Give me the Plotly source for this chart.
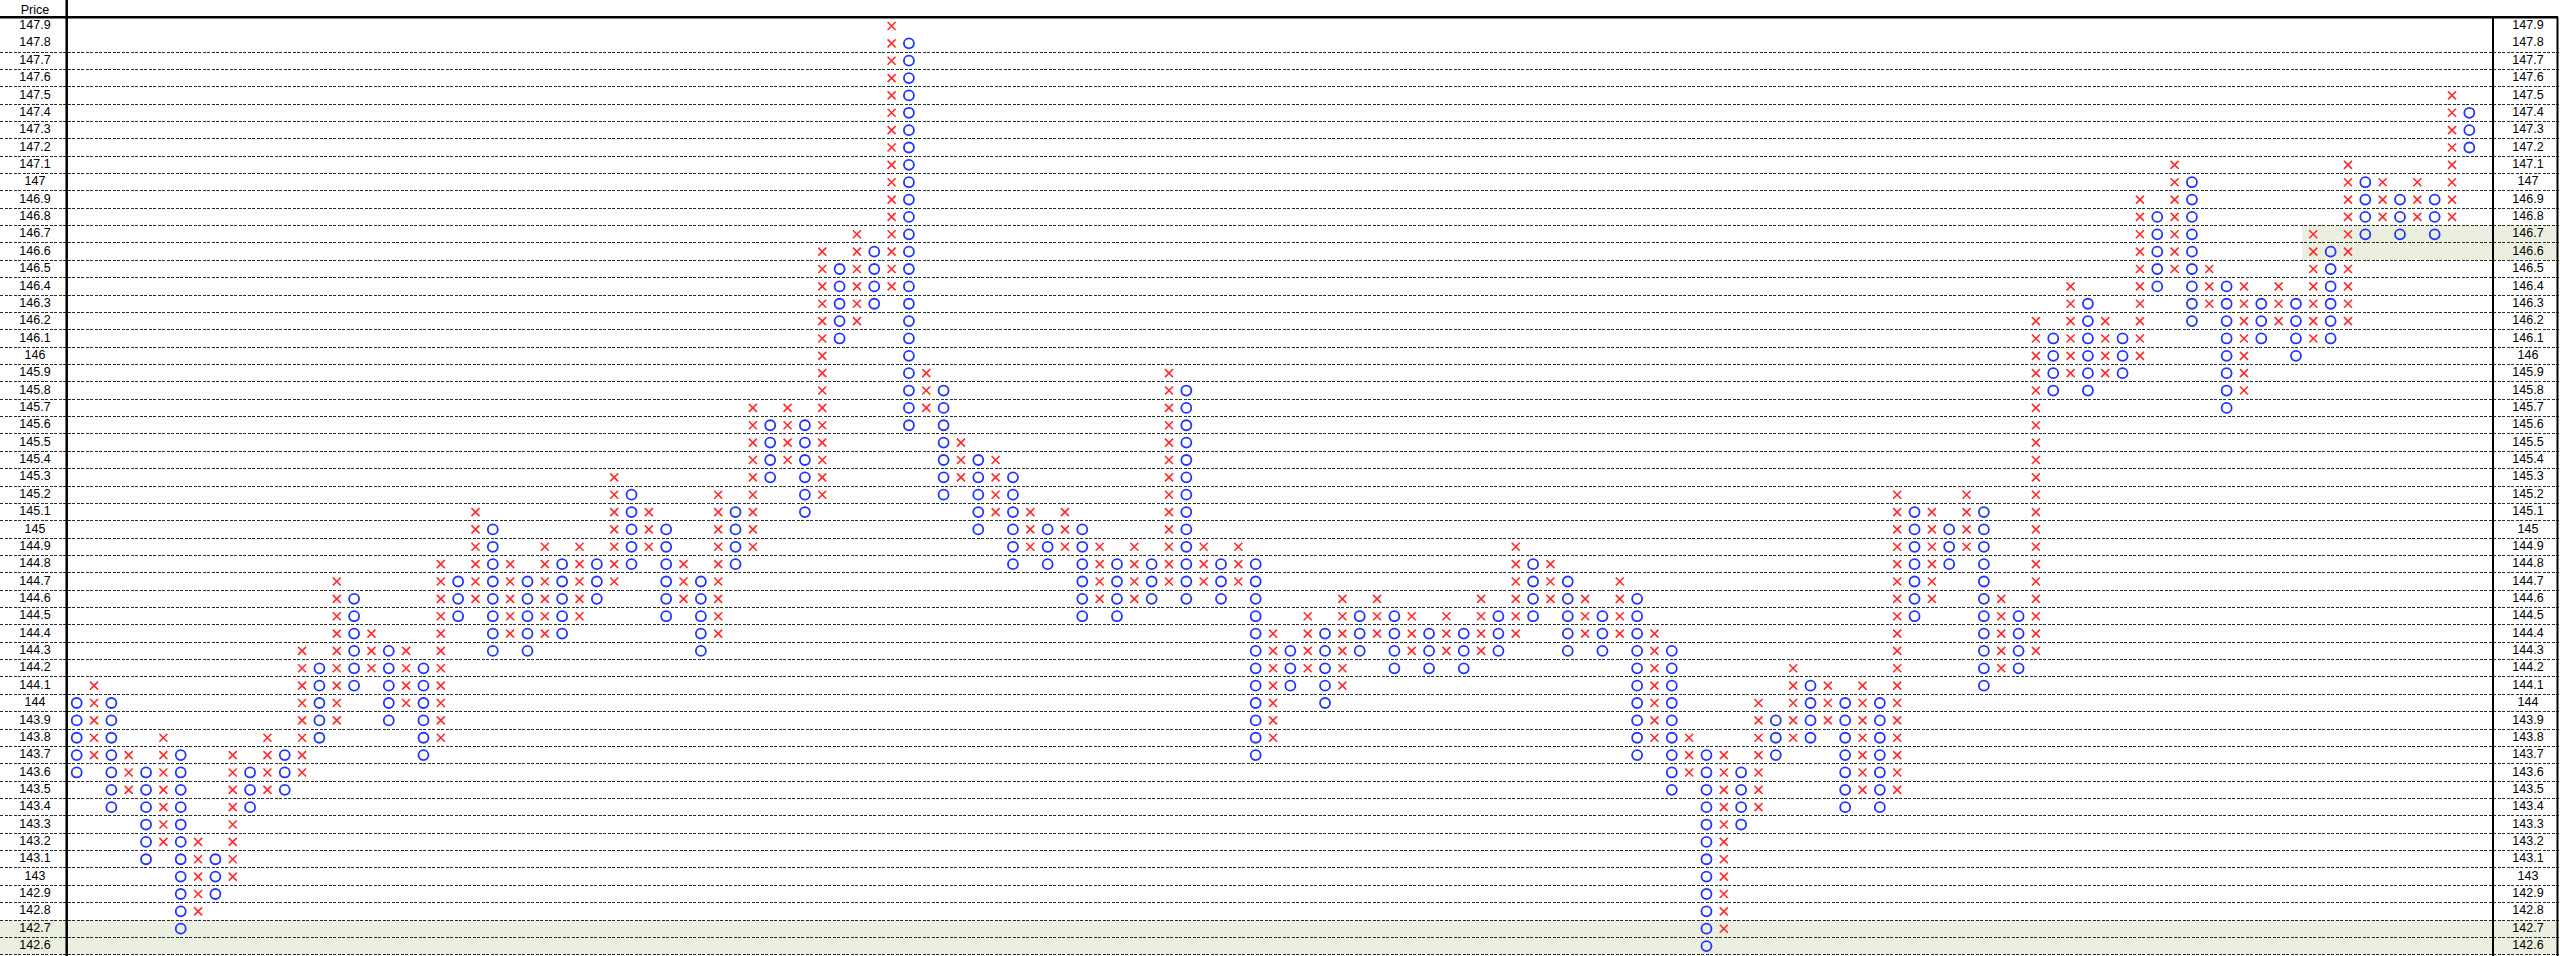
import plotly.graph_objects as go

# ---------------- data ----------------
PRICE_LABELS = ["147.9", "147.8", "147.7", "147.6", "147.5", "147.4", "147.3", "147.2", "147.1", "147",
                "146.9", "146.8", "146.7", "146.6", "146.5", "146.4", "146.3", "146.2", "146.1", "146",
                "145.9", "145.8", "145.7", "145.6", "145.5", "145.4", "145.3", "145.2", "145.1", "145",
                "144.9", "144.8", "144.7", "144.6", "144.5", "144.4", "144.3", "144.2", "144.1", "144",
                "143.9", "143.8", "143.7", "143.6", "143.5", "143.4", "143.3", "143.2", "143.1", "143",
                "142.9", "142.8", "142.7", "142.6"]

COLUMN_TYPES = list(
    "OXOXOXOXOXOXOXOXOXOXOXOXOXOXOXOXOXOXOXOXOXOXOXOXOXOXOXOXOXOXOXOXOXOXO"
    "XOXOXOXOXOXOXOXOXOXOXOXOXOXOXOXOXOXOXOXOXOXOXOXOXOXOXOXOXOXOXOXOXOXOXO")

COLUMN_HIGH = [144.0, 144.1, 144.0, 143.7, 143.6, 143.8, 143.7, 143.2, 143.1, 143.7,
               143.6, 143.8, 143.7, 144.3, 144.2, 144.7, 144.6, 144.4, 144.3, 144.3,
               144.2, 144.8, 144.7, 145.1, 145.0, 144.8, 144.7, 144.9, 144.8, 144.9,
               144.8, 145.3, 145.2, 145.1, 145.0, 144.8, 144.7, 145.2, 145.1, 145.7,
               145.6, 145.7, 145.6, 146.6, 146.5, 146.7, 146.6, 147.9, 147.8, 145.9,
               145.8, 145.5, 145.4, 145.4, 145.3, 145.1, 145.0, 145.1, 145.0, 144.9,
               144.8, 144.9, 144.8, 145.9, 145.8, 144.9, 144.8, 144.9, 144.8, 144.4,
               144.3, 144.5, 144.4, 144.6, 144.5, 144.6, 144.5, 144.5, 144.4, 144.5,
               144.4, 144.6, 144.5, 144.9, 144.8, 144.8, 144.7, 144.6, 144.5, 144.7,
               144.6, 144.4, 144.3, 143.8, 143.7, 143.7, 143.6, 144.0, 143.9, 144.2,
               144.1, 144.1, 144.0, 144.1, 144.0, 145.2, 145.1, 145.1, 145.0, 145.2,
               145.1, 144.6, 144.5, 146.2, 146.1, 146.4, 146.3, 146.2, 146.1, 146.9,
               146.8, 147.1, 147.0, 146.5, 146.4, 146.4, 146.3, 146.4, 146.3, 146.7,
               146.6, 147.1, 147.0, 147.0, 146.9, 147.0, 146.9, 147.5, 147.4]

COLUMN_LOW = [143.6, 143.7, 143.4, 143.5, 143.1, 143.2, 142.7, 142.8, 142.9, 143.0,
              143.4, 143.5, 143.5, 143.6, 143.8, 143.9, 144.1, 144.2, 143.9, 144.0,
              143.7, 143.8, 144.5, 144.6, 144.3, 144.4, 144.3, 144.4, 144.4, 144.5,
              144.6, 144.7, 144.8, 144.9, 144.5, 144.6, 144.3, 144.4, 144.8, 144.9,
              145.3, 145.4, 145.1, 145.2, 146.1, 146.2, 146.3, 146.4, 145.6, 145.7,
              145.2, 145.3, 145.0, 145.1, 144.8, 144.9, 144.8, 144.9, 144.5, 144.6,
              144.5, 144.6, 144.6, 144.7, 144.6, 144.7, 144.6, 144.7, 143.7, 143.8,
              144.1, 144.2, 144.0, 144.1, 144.3, 144.4, 144.2, 144.3, 144.2, 144.3,
              144.2, 144.3, 144.3, 144.4, 144.5, 144.6, 144.3, 144.4, 144.3, 144.4,
              143.7, 143.8, 143.5, 143.6, 142.6, 142.7, 143.3, 143.4, 143.7, 143.8,
              143.8, 143.9, 143.4, 143.5, 143.4, 143.5, 144.5, 144.6, 144.8, 144.9,
              144.1, 144.2, 144.2, 144.3, 145.8, 145.9, 145.8, 145.9, 145.9, 146.0,
              146.4, 146.5, 146.2, 146.3, 145.7, 145.8, 146.1, 146.2, 146.0, 146.1,
              146.1, 146.2, 146.7, 146.8, 146.7, 146.8, 146.7, 146.8, 147.2]

HEADER_TEXT = "Price"
SHADED_BANDS = [("142.6", "142.7", "all"), ("146.6", "146.7", "right")]

# ---------------- layout constants (pixels) ----------------
W, H = 2560, 956
CELL_W = 17.338          # px per column
CELL_H = 173.6           # px per 1.0 price (0.1 box = 17.36 px)
FIRST_COL_PX = 76.7
TOP_BOUNDARY_PX = 17.3   # pixel of the boundary above the top row
BOX = 0.1

top_price = float(PRICE_LABELS[0])
bottom_price = float(PRICE_LABELS[-1])
YMAX = top_price + BOX / 2 + TOP_BOUNDARY_PX / CELL_H
YMIN = YMAX - H / CELL_H
XMIN = 1 - FIRST_COL_PX / CELL_W
XMAX = XMIN + W / CELL_W


def px_to_x(px):
    return XMIN + px / CELL_W


def px_to_y(py):
    return YMAX - py / CELL_H


# ---------------- expand columns into boxes ----------------
xs_x, ys_x, xs_o, ys_o = [], [], [], []
for i, (t, hi, lo) in enumerate(zip(COLUMN_TYPES, COLUMN_HIGH, COLUMN_LOW)):
    n = int(round((hi - lo) / BOX)) + 1
    for k in range(n):
        p = round(lo + k * BOX, 1)
        if t == "X":
            xs_x.append(i + 1)
            ys_x.append(p)
        else:
            xs_o.append(i + 1)
            ys_o.append(p)

fig = go.Figure()

fig.add_trace(go.Scatter(
    x=xs_x, y=ys_x, mode="markers",
    marker=dict(symbol="x-thin-open", size=8, line=dict(color="#FF2A2A", width=1.6), color="#FF2A2A"),
    hoverinfo="skip"))
fig.add_trace(go.Scatter(
    x=xs_o, y=ys_o, mode="markers",
    marker=dict(symbol="circle-open", size=10, line=dict(color="#1F35FF", width=1.8), color="#1F35FF"),
    hoverinfo="skip"))

# price labels (left and right columns)
label_y = [float(s) for s in PRICE_LABELS]
font = dict(family="Liberation Sans, Arial, sans-serif", size=12.5, color="#000000")
fig.add_trace(go.Scatter(x=[px_to_x(35)] * len(PRICE_LABELS), y=label_y, text=PRICE_LABELS,
                         mode="text", textposition="middle center", textfont=font,
                         cliponaxis=False, hoverinfo="skip"))
fig.add_trace(go.Scatter(x=[px_to_x(2528)] * len(PRICE_LABELS), y=label_y, text=PRICE_LABELS,
                         mode="text", textposition="middle center", textfont=font,
                         cliponaxis=False, hoverinfo="skip"))
fig.add_trace(go.Scatter(x=[px_to_x(35)], y=[px_to_y(10.5)], text=[HEADER_TEXT],
                         mode="text", textposition="middle center", textfont=font,
                         cliponaxis=False, hoverinfo="skip"))

shapes = []
# shaded bands
for lo_s, hi_s, span in SHADED_BANDS:
    x0 = px_to_x(0) if span == "all" else px_to_x(2302)
    shapes.append(dict(type="rect", xref="x", yref="y", x0=x0, x1=px_to_x(2557.5),
                       y0=float(lo_s) - BOX / 2, y1=float(hi_s) + BOX / 2,
                       fillcolor="#EBEFDF", line=dict(width=0), layer="below"))
# frame lines
top_b = top_price + BOX / 2
shapes.append(dict(type="line", xref="x", yref="y", x0=px_to_x(0), x1=px_to_x(2558),
                   y0=top_b, y1=top_b, line=dict(color="#000000", width=2.5)))
shapes.append(dict(type="line", xref="x", yref="y", x0=px_to_x(66.7), x1=px_to_x(66.7),
                   y0=YMAX, y1=YMIN, line=dict(color="#000000", width=2.5)))
shapes.append(dict(type="line", xref="x", yref="y", x0=px_to_x(2493), x1=px_to_x(2493),
                   y0=top_b, y1=YMIN, line=dict(color="#000000", width=2)))
shapes.append(dict(type="line", xref="x", yref="y", x0=px_to_x(2557.5), x1=px_to_x(2557.5),
                   y0=top_b, y1=YMIN, line=dict(color="#000000", width=2)))

boundaries = [round(float(s) - BOX / 2, 2) for s in PRICE_LABELS[1:]] + [bottom_price - BOX / 2]

fig.update_layout(
    width=W, height=H, margin=dict(l=0, r=0, t=0, b=0),
    paper_bgcolor="#FFFFFF", plot_bgcolor="#FFFFFF", showlegend=False,
    shapes=shapes,
    xaxis=dict(range=[XMIN, XMAX], showgrid=False, zeroline=False, showticklabels=False,
               ticks="", showline=False, fixedrange=True),
    yaxis=dict(range=[YMIN, YMAX], tickmode="array", tickvals=boundaries, showgrid=True,
               gridcolor="#2A2A2A", gridwidth=1, griddash="3px,1.5px", zeroline=False,
               showticklabels=False, ticks="", showline=False, fixedrange=True),
)

fig.write_html(
    "out.html",
    config={"displayModeBar": False, "staticPlot": True},
    post_script="document.body.style.margin='0';document.body.style.padding='0';"
                "document.body.style.overflow='hidden';",
)
